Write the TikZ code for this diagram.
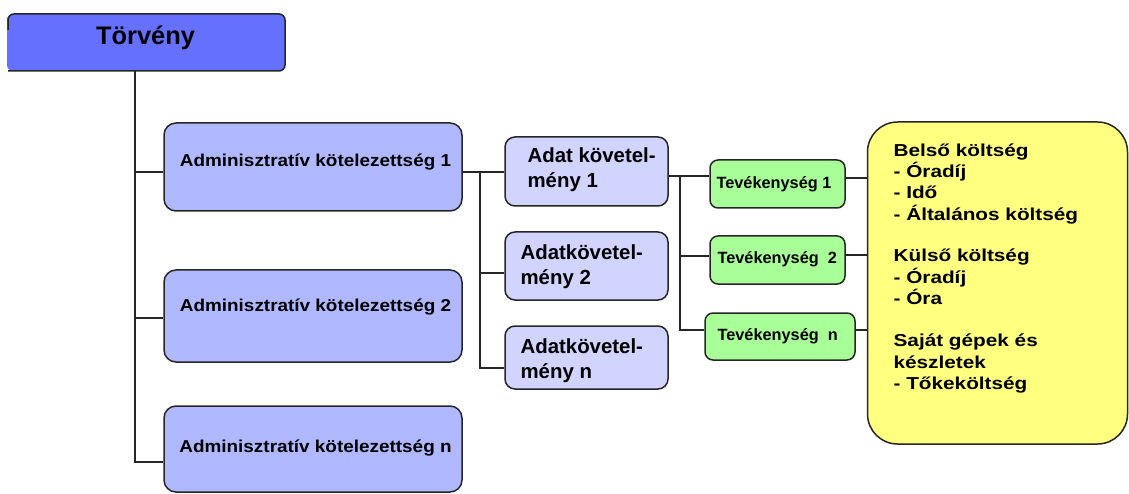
\documentclass[tikz,border=0pt]{standalone}
\usepackage{fontspec}
\setmainfont{Liberation Sans}
\newfontfamily\wideA{Liberation Sans}[FakeStretch=1.1]
\newfontfamily\wideY{Liberation Sans}[FakeStretch=1.2]
\definecolor{torvc}{RGB}{102,112,255}
\definecolor{adminc}{RGB}{176,184,255}
\definecolor{adatc}{RGB}{208,212,255}
\definecolor{tevc}{RGB}{168,255,152}
\definecolor{yelc}{RGB}{255,255,128}
\begin{document}
\begin{tikzpicture}[x=1pt,y=-1pt,line width=1.2pt,
  box/.style={draw=black!85,line width=1.5pt,rounded corners=12pt,inner sep=0pt},
  adminbox/.style={box,fill=adminc,minimum width=298pt},
  adatbox/.style={box,fill=adatc,minimum width=163pt,rounded corners=10pt},
  tevbox/.style={box,fill=tevc,minimum height=48pt,rounded corners=8pt},
  admintxt/.style={font=\fontsize{17.2}{20}\wideA\bfseries,anchor=base,inner sep=0pt},
  adattxt/.style={font=\fontsize{20.4}{25.5}\selectfont\bfseries,align=left,anchor=north west,inner sep=0pt},
  tevtxt/.style={font=\fontsize{16.3}{19}\selectfont\bfseries,anchor=base west,inner sep=0pt},
  conn/.style={draw=black!85,line width=1.2pt}]
\useasboundingbox (0,0) rectangle (1129,494);
% Törvény
\node[fill=torvc,minimum width=278pt,minimum height=57pt,inner sep=0pt,rounded corners=6pt] (torv) at (146,42.5) {};
\draw[black!85,line width=1.5pt,rounded corners=6pt] (8,30) -- (8,14) -- (285,14) -- (285,71) -- (8,71);
\node[font=\fontsize{25.4}{30}\selectfont\bfseries,anchor=base,inner sep=0pt] (torvt) at (145.5,45) {Törvény};
% Admin boxes
\node[adminbox,minimum height=88pt] (a1) at (313,167) {};
\node[admintxt] (a1t) at (315.5,166.5) {Adminisztratív kötelezettség 1};
\node[adminbox,minimum height=92pt] (a2) at (313,316) {};
\node[admintxt] (a2t) at (315.5,311) {Adminisztratív kötelezettség 2};
\node[adminbox,minimum height=86pt] (an) at (313,449) {};
\node[admintxt] (ant) at (315.5,452.5) {Adminisztratív kötelezettség n};
% Adat boxes
\node[adatbox,minimum height=69pt] (d1) at (586.5,171.5) {};
\node[adattxt] (d1t) at (527,147) {Adat követel-\\mény 1};
\node[adatbox,minimum height=68pt] (d2) at (586.5,266) {};
\node[adattxt] (d2t) at (520,244) {Adatkövetel-\\mény 2};
\node[adatbox,minimum height=63pt] (dn) at (586.5,357.5) {};
\node[adattxt] (dnt) at (520,338) {Adatkövetel-\\mény n};
% Tevékenység boxes
\node[tevbox,minimum width=135pt] (t1) at (777.5,184) {};
\node[tevtxt] (t1t) at (716,188.5) {Tevékenység 1};
\node[tevbox,minimum width=135pt] (t2) at (777.5,260) {};
\node[tevtxt] (t2t) at (717,263.5) {Tevékenység\ \ 2};
\node[tevbox,minimum width=150pt,minimum height=47pt] (tn) at (780,336.5) {};
\node[tevtxt] (tnt) at (717,340) {Tevékenység\ \ n};
% Yellow box
\node[box,fill=yelc,rounded corners=30pt,minimum width=260pt,minimum height=322pt] (y) at (997.5,283) {};
\node[font=\fontsize{17.3}{21.3}\wideY\bfseries,align=left,anchor=north west,inner sep=0pt] (yt) at (893,143)
 {Belső költség\\- Óradíj\\- Idő\\- Általános költség\\[20.5pt]Külső költség\\- Óradíj\\- Óra\\[21pt]Saját gépek és\\készletek\\- Tőkeköltség};
% connectors
\coordinate (trunk) at (135,71);
\draw[conn] (trunk) |- ([yshift=-13pt]an.west);
\draw[conn] ([yshift=-5pt]a1.west -| trunk) -- ([yshift=-5pt]a1.west);
\draw[conn] ([yshift=-2pt]a2.west -| trunk) -- ([yshift=-2pt]a2.west);
\coordinate (j1) at (480,172);
\draw[conn] ([yshift=-5pt]a1.east) -- (j1) -- ([yshift=-0.5pt]d1.west);
\draw[conn] (j1) |- ([yshift=-10.5pt]dn.west);
\draw[conn] ([yshift=-7pt]d2.west -| j1) -- ([yshift=-7pt]d2.west);
\coordinate (j2) at (680,176);
\draw[conn] ([yshift=-4.5pt]d1.east) -- (j2) -- ([yshift=8pt]t1.west);
\draw[conn] (j2) |- ([yshift=6.5pt]tn.west);
\draw[conn] ([yshift=4pt]t2.west -| j2) -- ([yshift=4pt]t2.west);
\draw[conn] ([yshift=6pt]t1.east) -- ([yshift=6pt]t1.east -| y.west);
\draw[conn] ([yshift=5pt]t2.east) -- ([yshift=5pt]t2.east -| y.west);
\draw[conn] ([yshift=6.5pt]tn.east) -- ([yshift=6.5pt]tn.east -| y.west);
\end{tikzpicture}
\end{document}
